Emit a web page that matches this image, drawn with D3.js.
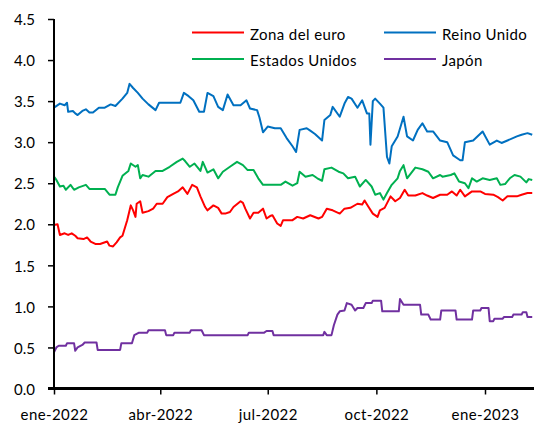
<!DOCTYPE html>
<html><head><meta charset="utf-8">
<script src="https://cdn.jsdelivr.net/npm/d3@7"></script>
<style>
html,body{margin:0;padding:0;background:#fff;}
svg{display:block;font-family:Lato,"Open Sans",sans-serif;}
</style></head>
<body>
<svg id="c" width="534" height="425"></svg>
<script>
// ---- data ----
const seriesNames = ["Zona del euro","Reino Unido","Estados Unidos","Japón"];
const seriesColors = ["#FF0000","#0070C0","#00B050","#7030A0"];
const yTicks = [0,0.5,1.0,1.5,2.0,2.5,3.0,3.5,4.0,4.5];
const xTickDates = ["2022-01-01","2022-04-01","2022-07-01","2022-10-01","2023-01-01"];
const xTickLabels = ["ene-2022","abr-2022","jul-2022","oct-2022","ene-2023"];

const euroDates = ["2022-01-01","2022-01-04","2022-01-06","2022-01-10","2022-01-13","2022-01-16","2022-01-19","2022-01-21","2022-01-26","2022-01-29","2022-02-01","2022-02-05","2022-02-09","2022-02-15","2022-02-17","2022-02-20","2022-02-23","2022-02-26","2022-02-28","2022-03-04","2022-03-07","2022-03-09","2022-03-11","2022-03-12","2022-03-15","2022-03-17","2022-03-22","2022-03-26","2022-03-29","2022-04-03","2022-04-07","2022-04-12","2022-04-16","2022-04-20","2022-04-24","2022-04-28","2022-05-02","2022-05-05","2022-05-09","2022-05-11","2022-05-16","2022-05-20","2022-05-23","2022-05-26","2022-05-30","2022-06-02","2022-06-08","2022-06-10","2022-06-12","2022-06-16","2022-06-19","2022-06-23","2022-06-27","2022-06-30","2022-07-03","2022-07-05","2022-07-09","2022-07-12","2022-07-14","2022-07-22","2022-07-26","2022-07-31","2022-08-06","2022-08-13","2022-08-16","2022-08-20","2022-08-25","2022-08-31","2022-09-04","2022-09-09","2022-09-15","2022-09-19","2022-09-21","2022-09-24","2022-09-28","2022-10-02","2022-10-04","2022-10-08","2022-10-13","2022-10-17","2022-10-21","2022-10-25","2022-10-28","2022-11-03","2022-11-09","2022-11-13","2022-11-18","2022-11-24","2022-11-30","2022-12-04","2022-12-08","2022-12-11","2022-12-15","2022-12-21","2022-12-28","2023-01-01","2023-01-08","2023-01-12","2023-01-16","2023-01-20","2023-01-28","2023-02-01","2023-02-06","2023-02-10"];
const euroValues = [1.99,2.00,1.87,1.89,1.87,1.89,1.86,1.83,1.82,1.84,1.79,1.76,1.76,1.79,1.74,1.73,1.78,1.84,1.86,2.05,2.23,2.17,2.09,2.25,2.28,2.14,2.16,2.19,2.25,2.25,2.33,2.37,2.40,2.45,2.37,2.48,2.45,2.34,2.21,2.17,2.23,2.20,2.13,2.13,2.15,2.21,2.28,2.26,2.19,2.07,2.14,2.14,2.19,2.07,2.10,2.11,2.01,1.98,2.05,2.05,2.09,2.07,2.11,2.07,2.09,2.19,2.17,2.13,2.19,2.20,2.25,2.24,2.29,2.22,2.13,2.09,2.17,2.20,2.34,2.28,2.32,2.42,2.35,2.35,2.38,2.35,2.32,2.36,2.36,2.40,2.35,2.42,2.34,2.40,2.40,2.37,2.36,2.33,2.29,2.34,2.34,2.36,2.38,2.38];

const ukDates = ["2022-01-01","2022-01-06","2022-01-10","2022-01-12","2022-01-13","2022-01-17","2022-01-19","2022-01-21","2022-01-25","2022-01-28","2022-01-31","2022-02-03","2022-02-08","2022-02-13","2022-02-18","2022-02-22","2022-02-28","2022-03-04","2022-03-06","2022-03-09","2022-03-13","2022-03-17","2022-03-22","2022-03-28","2022-03-31","2022-04-08","2022-04-18","2022-04-21","2022-04-25","2022-04-29","2022-05-04","2022-05-08","2022-05-11","2022-05-16","2022-05-20","2022-05-24","2022-05-28","2022-06-02","2022-06-08","2022-06-13","2022-06-16","2022-06-22","2022-06-24","2022-06-27","2022-07-01","2022-07-07","2022-07-12","2022-07-17","2022-07-22","2022-07-25","2022-07-28","2022-08-03","2022-08-06","2022-08-10","2022-08-16","2022-08-18","2022-08-23","2022-08-25","2022-08-31","2022-09-04","2022-09-07","2022-09-10","2022-09-15","2022-09-19","2022-09-23","2022-09-25","2022-09-26","2022-09-28","2022-09-30","2022-10-04","2022-10-07","2022-10-10","2022-10-12","2022-10-14","2022-10-19","2022-10-24","2022-10-27","2022-11-01","2022-11-05","2022-11-09","2022-11-13","2022-11-18","2022-11-24","2022-11-30","2022-12-05","2022-12-11","2022-12-13","2022-12-15","2022-12-22","2022-12-30","2023-01-05","2023-01-11","2023-01-15","2023-01-20","2023-01-28","2023-02-01","2023-02-06","2023-02-10"];
const ukValues = [3.42,3.47,3.45,3.48,3.37,3.38,3.35,3.33,3.38,3.40,3.36,3.36,3.42,3.42,3.46,3.44,3.53,3.60,3.71,3.66,3.60,3.53,3.46,3.39,3.48,3.48,3.48,3.60,3.56,3.51,3.37,3.37,3.60,3.56,3.43,3.39,3.58,3.45,3.45,3.51,3.41,3.39,3.30,3.12,3.19,3.17,3.17,3.05,2.95,2.88,3.15,3.17,3.14,3.10,3.02,3.27,3.33,3.43,3.31,3.47,3.55,3.53,3.42,3.51,3.35,3.35,2.97,3.50,3.53,3.47,3.42,2.82,2.74,2.95,3.07,3.31,3.07,3.02,3.15,3.23,3.13,3.13,3.02,3.00,2.84,2.78,2.78,3.00,3.02,3.13,2.97,3.02,2.99,3.02,3.07,3.09,3.11,3.09];

const usDates = ["2022-01-01","2022-01-03","2022-01-06","2022-01-09","2022-01-11","2022-01-15","2022-01-18","2022-01-22","2022-01-28","2022-01-31","2022-02-06","2022-02-13","2022-02-17","2022-02-22","2022-02-24","2022-02-28","2022-03-05","2022-03-07","2022-03-11","2022-03-13","2022-03-15","2022-03-17","2022-03-22","2022-03-28","2022-04-03","2022-04-09","2022-04-15","2022-04-20","2022-04-22","2022-04-26","2022-04-30","2022-05-05","2022-05-07","2022-05-11","2022-05-16","2022-05-20","2022-05-24","2022-05-30","2022-06-05","2022-06-10","2022-06-14","2022-06-19","2022-06-23","2022-06-27","2022-07-01","2022-07-06","2022-07-12","2022-07-16","2022-07-22","2022-07-26","2022-07-28","2022-08-02","2022-08-08","2022-08-12","2022-08-16","2022-08-18","2022-08-24","2022-08-30","2022-09-03","2022-09-07","2022-09-13","2022-09-17","2022-09-22","2022-09-27","2022-09-30","2022-10-04","2022-10-07","2022-10-10","2022-10-14","2022-10-19","2022-10-21","2022-10-24","2022-10-27","2022-11-03","2022-11-09","2022-11-14","2022-11-18","2022-11-24","2022-11-26","2022-12-03","2022-12-06","2022-12-10","2022-12-15","2022-12-18","2022-12-21","2022-12-25","2022-12-30","2023-01-05","2023-01-11","2023-01-14","2023-01-18","2023-01-22","2023-01-26","2023-01-31","2023-02-05","2023-02-07","2023-02-10"];
const usValues = [2.58,2.54,2.46,2.47,2.42,2.48,2.42,2.45,2.48,2.43,2.43,2.43,2.36,2.36,2.45,2.59,2.65,2.74,2.70,2.72,2.56,2.60,2.58,2.65,2.65,2.70,2.76,2.80,2.77,2.70,2.74,2.65,2.76,2.63,2.67,2.56,2.64,2.70,2.76,2.72,2.66,2.66,2.56,2.48,2.48,2.48,2.48,2.52,2.47,2.50,2.64,2.58,2.60,2.56,2.53,2.67,2.69,2.64,2.62,2.56,2.58,2.46,2.54,2.46,2.36,2.38,2.30,2.38,2.48,2.56,2.65,2.72,2.56,2.69,2.67,2.64,2.56,2.60,2.58,2.60,2.62,2.52,2.50,2.44,2.56,2.52,2.56,2.54,2.56,2.48,2.49,2.56,2.60,2.58,2.51,2.55,2.54];

const jpDates = ["2022-01-01","2022-01-03","2022-01-05","2022-01-11","2022-01-12","2022-01-18","2022-01-19","2022-01-21","2022-01-25","2022-01-27","2022-02-06","2022-02-07","2022-02-26","2022-02-27","2022-03-08","2022-03-10","2022-03-14","2022-03-21","2022-03-22","2022-04-05","2022-04-06","2022-04-12","2022-04-13","2022-04-26","2022-04-27","2022-05-06","2022-05-08","2022-06-14","2022-06-15","2022-06-28","2022-06-30","2022-07-05","2022-07-06","2022-08-17","2022-08-18","2022-08-20","2022-08-24","2022-08-26","2022-08-29","2022-08-31","2022-09-04","2022-09-06","2022-09-10","2022-09-13","2022-09-15","2022-09-20","2022-09-22","2022-09-27","2022-09-28","2022-10-05","2022-10-06","2022-10-20","2022-10-21","2022-10-24","2022-11-07","2022-11-08","2022-11-14","2022-11-16","2022-11-24","2022-11-25","2022-12-07","2022-12-08","2022-12-21","2022-12-22","2022-12-28","2022-12-29","2023-01-04","2023-01-05","2023-01-08","2023-01-09","2023-01-16","2023-01-17","2023-01-24","2023-01-25","2023-02-01","2023-02-02","2023-02-05","2023-02-06","2023-02-10"];
const jpValues = [0.44,0.50,0.52,0.52,0.55,0.55,0.46,0.50,0.53,0.56,0.56,0.47,0.47,0.55,0.55,0.65,0.68,0.68,0.71,0.71,0.65,0.65,0.68,0.68,0.71,0.71,0.65,0.65,0.68,0.68,0.70,0.70,0.65,0.65,0.69,0.65,0.65,0.77,0.90,0.94,0.95,1.04,1.02,0.95,0.98,0.98,1.04,1.04,1.07,1.07,0.94,0.94,1.09,1.02,1.02,0.90,0.90,0.84,0.84,0.95,0.95,0.84,0.84,0.95,0.95,0.98,0.98,0.82,0.82,0.85,0.85,0.87,0.87,0.90,0.90,0.93,0.93,0.87,0.87];

// ---- drawing ----
const parse = d3.utcParse("%Y-%m-%d");
const svg = d3.select("#c");
const font = "Lato, 'Open Sans', sans-serif";

const x = d3.scaleUtc()
  .domain([parse("2022-01-01"), parse("2023-01-01")])
  .range([54, 485]);
const y = d3.scaleLinear().domain([0, 4.5]).range([388.5, 19]);

const build = (dates, vals) => dates.map((d, i) => ({ date: parse(d), value: vals[i] }));
const series = [
  build(euroDates, euroValues),
  build(ukDates, ukValues),
  build(usDates, usValues),
  build(jpDates, jpValues)
];

const line = d3.line().x(d => x(d.date)).y(d => y(d.value));

// draw order: japan, us, uk, euro
[3, 2, 1, 0].forEach(i => {
  svg.append("path")
    .datum(series[i])
    .attr("fill", "none")
    .attr("stroke", seriesColors[i])
    .attr("stroke-width", 2)
    .attr("stroke-linejoin", "round")
    .attr("d", line);
});

// y axis
const yAxis = d3.axisLeft(y).tickValues(yTicks).tickFormat(d3.format(".1f")).tickSize(6).tickPadding(13);
const gy = svg.append("g").attr("transform", "translate(54,0)").call(yAxis);
gy.select(".domain").attr("stroke", "#000").attr("stroke-width", 2).attr("d", `M0,${y(4.5)}V${y(0)}`);
gy.selectAll(".tick line").attr("stroke", "#000").attr("stroke-width", 1.5);
gy.selectAll(".tick text").attr("font-family", font).attr("font-size", 15).attr("fill", "#000").attr("dy", "0.38em");

// x axis
const gx = svg.append("g").attr("transform", `translate(0,${y(0)})`)
  .call(d3.axisBottom(x).tickValues(xTickDates.map(parse)).tickFormat((d, i) => xTickLabels[i]).tickSize(6).tickPadding(15));
gx.select(".domain").attr("stroke", "#000").attr("stroke-width", 3).attr("d", "M48,0H534");
gx.selectAll(".tick line").attr("stroke", "#000").attr("stroke-width", 1.5);
gx.selectAll(".tick text").attr("font-family", font).attr("font-size", 15).attr("fill", "#000").attr("letter-spacing", "0.4px");

// legend
const legendPos = [[192, 32.5], [384, 32.5], [192, 59], [384, 59]];
seriesNames.forEach((name, i) => {
  const [lx, ly] = legendPos[i];
  svg.append("line").attr("x1", lx).attr("x2", lx + 52).attr("y1", ly).attr("y2", ly)
    .attr("stroke", seriesColors[i]).attr("stroke-width", 2);
  svg.append("text").attr("x", lx + 58).attr("y", ly + 7)
    .attr("font-family", font).attr("font-size", 15).attr("fill", "#000")
    .attr("letter-spacing", "0.4px")
    .text(name);
});
</script>
</body></html>
